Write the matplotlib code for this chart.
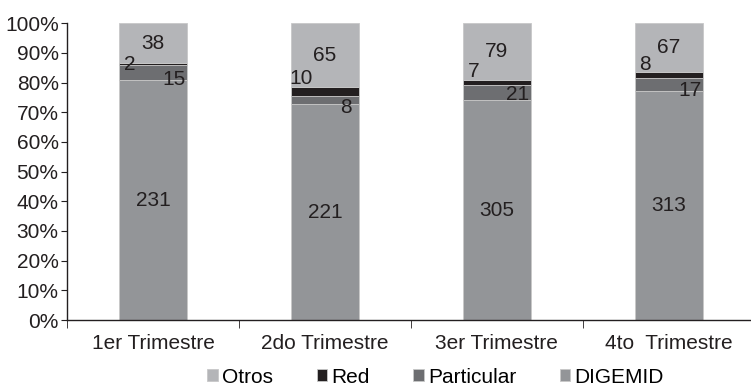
import matplotlib.pyplot as plt
import numpy as np

plt.rcParams['font.family'] = ['Liberation Sans', 'DejaVu Sans']

# datos por trimestre
categorias = ['1er Trimestre', '2do Trimestre', '3er Trimestre', '4to  Trimestre']
digemid = [231, 221, 305, 313]
particular = [15, 8, 21, 17]
red = [2, 10, 7, 8]
otros = [38, 65, 79, 67]

# desplazamiento vertical (pt) de las etiquetas pequeñas
dy_red = [-1, 6, 6, 5.5]
dy_part = [-5, -5, -1.5, -4]

series = [('DIGEMID', digemid, '#939598'),
          ('Particular', particular, '#6d6e71'),
          ('Red', red, '#231f20'),
          ('Otros', otros, '#b4b5b8')]

total = np.array(digemid) + np.array(particular) + np.array(red) + np.array(otros)
x = np.arange(len(categorias))

fig = plt.figure(figsize=(7.51, 3.87), dpi=100)
ax = fig.add_axes([0.0892, 0.1731, 0.916, 0.7667])

base = np.zeros(len(categorias))
tops = {}
for nombre, vals, color in series:
    pct = np.array(vals) / total * 100
    ax.bar(x, pct, bottom=base, width=0.4, color=color, edgecolor='#c8c8c8',
           linewidth=0.6, label=nombre)
    tops[nombre] = (base.copy(), base + pct)
    base = base + pct

tk = dict(fontsize=15, color='#231f20', ha='center', va='center')
for i in range(len(categorias)):
    b, t = tops['DIGEMID']
    ax.text(x[i], (b[i] + t[i]) / 2, str(digemid[i]), **tk)
    b, t = tops['Otros']
    ax.text(x[i], (b[i] + t[i]) / 2, str(otros[i]), **tk)
    b, t = tops['Particular']
    ax.annotate(str(particular[i]), xy=(x[i], (b[i] + t[i]) / 2),
                xytext=(15, dy_part[i]), textcoords='offset points', **tk)
    b, t = tops['Red']
    ax.annotate(str(red[i]), xy=(x[i], t[i]),
                xytext=(-17, dy_red[i]), textcoords='offset points', **tk)

ax.set_xlim(-0.5, 3.5)
ax.set_ylim(0, 100)
ax.set_yticks(np.arange(0, 101, 10))
ax.set_yticklabels([f'{v}%' for v in range(0, 101, 10)], fontsize=15, color='#231f20')
ax.set_xticks(x)
ax.set_xticklabels(categorias, fontsize=15, color='#231f20')
ax.set_xticks(np.arange(-0.5, 4, 1), minor=True)
ax.tick_params(axis='x', which='major', length=0, pad=10)
ax.tick_params(axis='x', which='minor', length=6, direction='out', color='#231f20')
ax.tick_params(axis='y', length=4, direction='out', pad=2, color='#231f20')

for s in ['top', 'right']:
    ax.spines[s].set_visible(False)
for s in ['left', 'bottom']:
    ax.spines[s].set_color('#231f20')
    ax.spines[s].set_linewidth(1)

handles, labels = ax.get_legend_handles_labels()
fig.legend(handles[::-1], labels[::-1], loc='center', bbox_to_anchor=(0.58, 0.025),
           ncol=4, frameon=False, fontsize=15, handlelength=0.5, handleheight=0.5,
           handletextpad=0.2, columnspacing=2.1, borderpad=0)

fig.savefig('out.png', dpi=100)
